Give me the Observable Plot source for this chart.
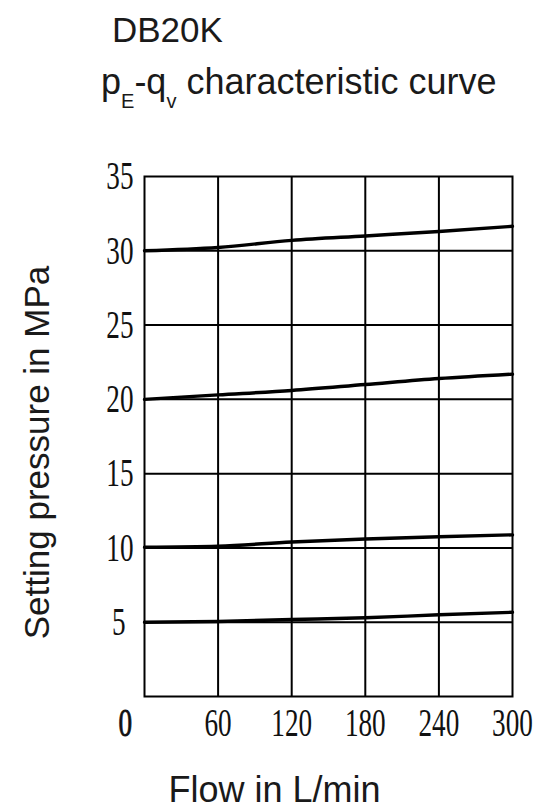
<!DOCTYPE html>
<html>
<head>
<meta charset="utf-8">
<script src="https://cdn.jsdelivr.net/npm/d3@7"></script>
<script src="https://cdn.jsdelivr.net/npm/@observablehq/plot@0.6"></script>
<style>
  html, body { margin: 0; padding: 0; background: #fff; }
  #page { position: relative; width: 553px; height: 812px; overflow: hidden; }
  #head { position: relative; width: 553px; height: 110px; font-family: "Liberation Sans", Arial, sans-serif; color: #1a1a1a; }
  #t1 { position: absolute; left: 112px; top: 12px; font-size: 35px; line-height: 1; white-space: nowrap; }
  #t2 { position: absolute; left: 101px; top: 64px; font-size: 36px; line-height: 1; white-space: nowrap; }
  #t2 .sub { font-size: 20px; position: relative; top: 14px; }
  #chart svg { display: block; overflow: visible; }
</style>
</head>
<body>
<div id="page">
  <div id="head">
    <div id="t1">DB20K</div>
    <div id="t2">p<span class="sub">E</span>-q<span class="sub">v</span> characteristic curve</div>
  </div>
  <div id="chart"></div>
</div>
<script>
// Flow (L/min) sample points
const flow = [0, 60, 120, 180, 240, 300];
// Setting pressure curves (MPa)
const curve5  = [5.0, 5.05, 5.18, 5.3, 5.5, 5.67];
const curve10 = [10.05, 10.12, 10.4, 10.6, 10.75, 10.88];
const curve20 = [20.0, 20.3, 20.6, 21.0, 21.4, 21.7];
const curve30 = [30.0, 30.22, 30.7, 31.0, 31.3, 31.65];
const seriesNames = ["5", "10", "20", "30"];
// Tick labels
const xTicks = [60, 120, 180, 240, 300];
const xGrid = [60, 120, 180, 240];
const yTicksMain = [10, 15, 20, 25, 30, 35];
const yTickLow = [5];
const yGrid = [5, 10, 15, 20, 25, 30];
const xLabel = "Flow in L/min";
const yLabel = "Setting pressure in MPa";
const originLabel = "0";

const allCurves = [curve5, curve10, curve20, curve30];
const rows = [];
allCurves.forEach((vals, s) => vals.forEach((p, i) => rows.push({series: seriesNames[s], q: flow[i], p})));

const tickFont = "Liberation Serif, 'DejaVu Serif', serif";
const labelFont = "Liberation Sans, Arial, sans-serif";
const tickStyle = {tickSize: 0, tickPadding: 11, fontSize: 40, fontFamily: tickFont, fill: "#111", stroke: "#111", strokeWidth: 0.9, label: null};

const chart = Plot.plot({
  width: 553,
  height: 702,
  marginTop: 66,
  marginBottom: 116,
  marginLeft: 144,
  marginRight: 41,
  x: {domain: [0, 300]},
  y: {domain: [0, 35]},
  marks: [
    Plot.gridX(xGrid, {stroke: "black", strokeOpacity: 1, strokeWidth: 2}),
    Plot.gridY(yGrid, {stroke: "black", strokeOpacity: 1, strokeWidth: 2}),
    Plot.frame({stroke: "black", strokeWidth: 2}),
    Plot.line(rows, {x: "q", y: "p", z: "series", stroke: "black", strokeWidth: 3.4, curve: "monotone-x"}),
    Plot.axisX({ticks: xTicks, ...tickStyle}),
    Plot.axisY({ticks: yTicksMain, ...tickStyle}),
    Plot.axisY({ticks: yTickLow, ...tickStyle, dx: -8}),
    Plot.text([originLabel], {text: d => d, frameAnchor: "bottom-left", dx: -26, dy: 11, lineAnchor: "top", fontSize: 40, fontFamily: tickFont, fill: "#111", stroke: "#111", strokeWidth: 0.9, className: "origin-tick"}),
    Plot.text([xLabel], {text: d => d, frameAnchor: "bottom-left", textAnchor: "start", lineAnchor: "top", dx: 24, dy: 80, fontSize: 36, fontFamily: labelFont, fill: "#1a1a1a"}),
    Plot.text([yLabel], {text: d => d, frameAnchor: "left", rotate: -90, textAnchor: "middle", lineAnchor: "middle", dx: -107, dy: 16, fontSize: 35, fontFamily: labelFont, fill: "#1a1a1a"})
  ]
});
document.getElementById("chart").appendChild(chart);

// Condense the serif tick digits horizontally, as in the original drawing
const condense = 0.68;
const tickTexts = chart.querySelectorAll('g[aria-label="x-axis tick label"] text, g[aria-label="y-axis tick label"] text, .origin-tick text');
tickTexts.forEach(el => {
  const t = el.getAttribute("transform");
  if (t) {
    el.setAttribute("transform", t + ` scale(${condense},1)`);
  } else {
    const x = +(el.getAttribute("x") || 0), y = +(el.getAttribute("y") || 0);
    el.removeAttribute("x"); el.removeAttribute("y");
    el.setAttribute("transform", `translate(${x},${y}) scale(${condense},1)`);
  }
});
</script>
</body>
</html>
